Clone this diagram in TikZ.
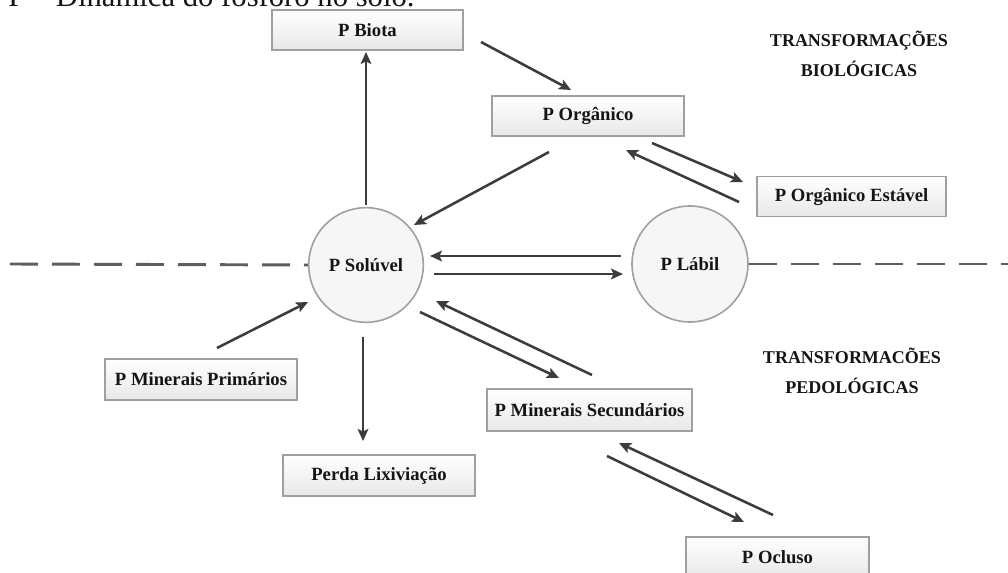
\documentclass[tikz,border=0pt]{standalone}
\usepackage{fontspec}
\setmainfont{Liberation Serif}
\usetikzlibrary{arrows.meta}
\definecolor{boxline}{HTML}{A0A0A0}
\definecolor{arrowcol}{HTML}{3C3C3C}
\definecolor{dashcol}{HTML}{5E5E5E}
\definecolor{txt}{HTML}{151515}
\begin{document}
\begin{tikzpicture}[x=0.75pt,y=-0.75pt,
  lbl/.style={font=\fontsize{14}{16}\selectfont\bfseries, text=txt},
  box/.style={lbl, draw=boxline, line width=1.4pt, top color=white, bottom color=gray!18,
              minimum height=30pt, inner sep=0pt},
  pool/.style={lbl, circle, draw=boxline, line width=1.2pt, fill=gray!7,
              minimum size=86pt, inner sep=0pt},
  flow/.style={draw=arrowcol, line width=1.9pt, -{Stealth[length=9pt,width=8pt,inset=2pt]}},
  sepline/.style={draw=dashcol, line width=2.2pt, dash pattern=on 21pt off 10.5pt},
  zone/.style={font=\fontsize{13.5}{23}\selectfont\bfseries, align=center, text=txt}]
\useasboundingbox (0,0) rectangle (1008,573);
\clip (0,0) rectangle (1008,573);
\fill[white] (0,0) rectangle (1008,573);

% cut-off caption
\node[anchor=base west, inner sep=0pt, font=\fontsize{23}{27}\selectfont, text=txt] (title) at (8,7) {P – Dinâmica do fósforo no solo.};

% boxes
\node[box, minimum width=143.25pt] (biota) at (367.5,30) {P Biota};
\node[box, minimum width=144pt] (org) at (588,116) {P Orgânico};
\node[box, minimum width=141.75pt] (est) at (851.5,196.5) {P Orgânico Estável};
\node[box, minimum width=144pt, minimum height=30.75pt] (prim) at (201,379.5) {P Minerais Primários};
\node[box, minimum width=144pt, minimum height=30.75pt] (perda) at (379,475.5) {Perda Lixiviação};
\node[box, minimum width=153.75pt, minimum height=31.5pt] (sec) at (589.5,410) {P Minerais Secundários};
\node[box, minimum width=137.25pt] (ocl) at (777.5,557) {P Ocluso};

% pools
\node[pool] (sol) at (366,265) {P Solúvel};
\node[pool, minimum size=87pt] (lab) at (690,264) {P Lábil};

% zone labels
\node[zone] (bio) at (859,54) {TRANSFORMAÇÕES\\BIOLÓGICAS};
\node[zone] (ped) at (852,371) {TRANSFORMACÕES\\PEDOLÓGICAS};

% separator
\coordinate (sepL) at (10,264);
\coordinate (sepR) at (1010,264);
\draw[sepline] (sepL) -- (sol.west);
\draw[sepline] (lab.east) -- (sepR);

% arrow end points
\coordinate (a1s) at (366,205);  \coordinate (a1e) at (366,52);
\coordinate (a2s) at (481,42);   \coordinate (a2e) at (571,90);
\coordinate (a3s) at (549,152);  \coordinate (a3e) at (414,225);
\coordinate (a4s) at (652,143);  \coordinate (a4e) at (743,182);
\coordinate (a5s) at (739,202);  \coordinate (a5e) at (626,150);
\coordinate (a6s) at (621,256);  \coordinate (a6e) at (430,256);
\coordinate (a7s) at (434,274);  \coordinate (a7e) at (623,274);
\coordinate (a8s) at (217,348);  \coordinate (a8e) at (308,302);
\coordinate (a9s) at (363,337);  \coordinate (a9e) at (363,441);
\coordinate (a10s) at (420,312); \coordinate (a10e) at (559,378);
\coordinate (a11s) at (592,375); \coordinate (a11e) at (436,301);
\coordinate (a12s) at (607,456); \coordinate (a12e) at (744,522);
\coordinate (a13s) at (773,515); \coordinate (a13e) at (619,443);

\draw[flow] (a1s) -- (a1e);
\draw[flow] (a2s) -- (a2e);
\draw[flow] (a3s) -- (a3e);
\draw[flow] (a4s) -- (a4e);
\draw[flow] (a5s) -- (a5e);
\draw[flow] (a6s) -- (a6e);
\draw[flow] (a7s) -- (a7e);
\draw[flow] (a8s) -- (a8e);
\draw[flow] (a9s) -- (a9e);
\draw[flow] (a10s) -- (a10e);
\draw[flow] (a11s) -- (a11e);
\draw[flow] (a12s) -- (a12e);
\draw[flow] (a13s) -- (a13e);
\end{tikzpicture}
\end{document}
